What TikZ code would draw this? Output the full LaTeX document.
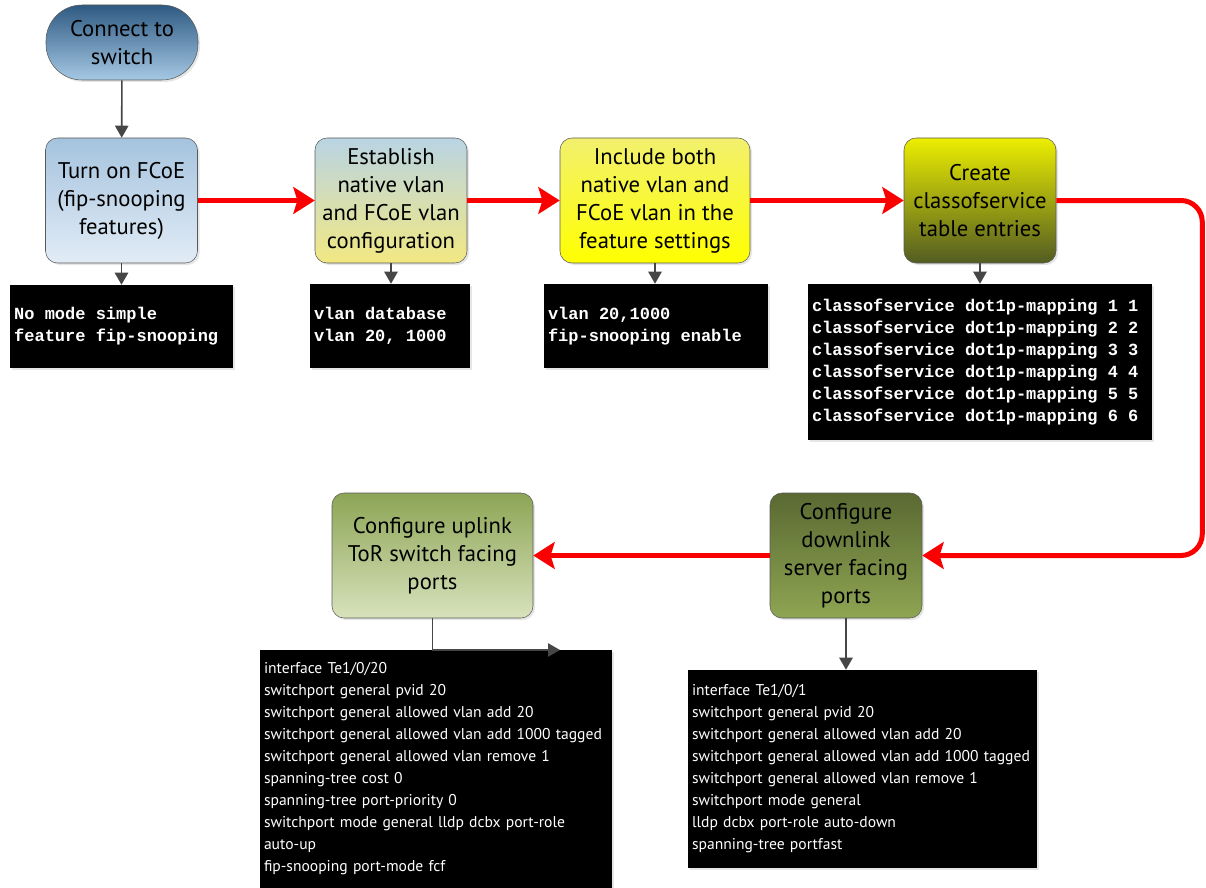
\documentclass[tikz,border=0pt]{standalone}
\usepackage{fontspec}
\setmainfont{PT Sans}
\newfontfamily\cmdfont{Liberation Mono}
\newcommand\cmdtext{\cmdfont\bfseries\fontsize{12.75}{16.5}\selectfont}
\newcommand\wsp{\hspace*{0.6em}}
\usetikzlibrary{arrows.meta, shadows}
\definecolor{edgegray}{RGB}{90,90,90}
\definecolor{feedgray}{RGB}{70,70,70}
\definecolor{flowred}{RGB}{250,0,0}
\definecolor{starttop}{RGB}{47,90,130}
\definecolor{startbot}{RGB}{165,200,228}
\definecolor{fcoetop}{RGB}{165,195,222}
\definecolor{fcoebot}{RGB}{226,236,246}
\definecolor{vlantop}{RGB}{185,212,228}
\definecolor{vlanbot}{RGB}{242,232,130}
\definecolor{incltop}{RGB}{242,240,110}
\definecolor{inclbot}{RGB}{255,255,0}
\definecolor{costop}{RGB}{236,238,0}
\definecolor{cosbot}{RGB}{82,92,34}
\definecolor{downtop}{RGB}{90,105,50}
\definecolor{downbot}{RGB}{142,165,82}
\definecolor{uptop}{RGB}{140,165,85}
\definecolor{upbot}{RGB}{216,226,188}
\tikzset{
    stepbox/.style 2 args={
        draw=edgegray, rounded corners=9pt,
        top color=#1, bottom color=#2,
        minimum width=114pt, minimum height=93.75pt,
        align=center, inner sep=2pt,
        font=\fontsize{17}{21}\selectfont,
        drop shadow={opacity=0.2, shadow xshift=1.5pt, shadow yshift=-1.5pt},
    },
    cmdbox/.style={
        fill=black, text=white, align=left, inner xsep=3pt,
        font=\cmdtext,
        drop shadow={opacity=0.2, shadow xshift=1.5pt, shadow yshift=-1.5pt},
    },
    cfgbox/.style={
        fill=black, text=white, align=left, inner xsep=3pt,
        font=\fontsize{11.7}{16.5}\selectfont,
        drop shadow={opacity=0.2, shadow xshift=1.5pt, shadow yshift=-1.5pt},
    },
    flow/.style={
        draw=flowred, line width=3.75pt,
        -{Stealth[length=16pt, width=20pt, inset=3pt]},
    },
    feed/.style={
        draw=feedgray, line width=1.2pt,
        -{Triangle[length=9pt, width=10pt]},
    },
}

\begin{document}
\begin{tikzpicture}[x=0.75pt, y=-0.75pt]
    \useasboundingbox (0,0) rectangle (1206,888);

    % flow steps
    \node[stepbox={starttop}{startbot}, rounded corners=27pt, minimum height=56.25pt]
        (start) at (122,42.5) {Connect to\\switch};
    \node[stepbox={fcoetop}{fcoebot}]
        (fcoe) at (121.5,200.5) {Turn on FCoE\\(fip-snooping\\features)};
    \node[stepbox={vlantop}{vlanbot}]
        (vlan) at (391,200.5) {Establish\\native vlan\\and FCoE vlan\\configuration};
    \node[stepbox={incltop}{inclbot}, minimum width=142.5pt] (incl) at (655,200.5)
        {Include both\\native vlan and\\FCoE vlan in the\\feature settings};
    \node[stepbox={costop}{cosbot}]
        (cos) at (980,200.5) {Create\\classofservice\\table entries};
    \node[stepbox={downtop}{downbot}]
        (down) at (846,555.5) {Configure\\downlink\\server facing\\ports};
    \node[stepbox={uptop}{upbot}, minimum width=150.75pt] (up) at (432.5,555.5)
        {Configure uplink\\ToR switch facing\\ports};

    % command boxes
    \node[cmdbox, text width=161pt, minimum height=62.25pt] (cmdfcoe) at (121.5,326.5)
        {No\wsp mode\wsp simple\\feature\wsp fip-snooping};
    \node[cmdbox, text width=114pt, minimum height=63pt] (cmdvlan) at (390,326)
        {vlan\wsp database\\vlan\wsp 20,\wsp 1000};
    \node[cmdbox, text width=162pt, minimum height=63pt] (cmdincl) at (656,326)
        {vlan\wsp 20,1000\\fip-snooping\wsp enable};
    \node[cmdbox, text width=252pt, minimum height=117pt] (cmdcos) at (980,362)
        {classofservice\wsp dot1p-mapping\wsp 1\wsp 1\\
         classofservice\wsp dot1p-mapping\wsp 2\wsp 2\\
         classofservice\wsp dot1p-mapping\wsp 3\wsp 3\\
         classofservice\wsp dot1p-mapping\wsp 4\wsp 4\\
         classofservice\wsp dot1p-mapping\wsp 5\wsp 5\\
         classofservice\wsp dot1p-mapping\wsp 6\wsp 6};
    \node[cfgbox, text width=258pt, minimum height=178.5pt] (cfgup) at (436,769)
        {interface Te1/0/20\\
         switchport general pvid 20\\
         switchport general allowed vlan add 20\\
         switchport general allowed vlan add 1000 tagged\\
         switchport general allowed vlan remove 1\\
         spanning-tree cost 0\\
         spanning-tree port-priority 0\\
         switchport mode general lldp dcbx port-role\\
         auto-up\\
         fip-snooping port-mode fcf};
    \node[cfgbox, text width=255.75pt, minimum height=148.5pt] (cfgdown) at (862.5,769)
        {interface Te1/0/1\\
         switchport general pvid 20\\
         switchport general allowed vlan add 20\\
         switchport general allowed vlan add 1000 tagged\\
         switchport general allowed vlan remove 1\\
         switchport mode general\\
         lldp dcbx port-role auto-down\\
         spanning-tree portfast};

    % connectors
    \draw[feed] (start) -- (fcoe);
    \draw[feed] (fcoe.south) -- (fcoe.south |- cmdfcoe.north);
    \draw[feed] (vlan.south) -- (vlan.south |- cmdvlan.north);
    \draw[feed] (incl.south) -- (incl.south |- cmdincl.north);
    \draw[feed] (cos.south) -- (cos.south |- cmdcos.north);
    \draw[feed] (down.south) -- (down.south |- cfgdown.north);
    \coordinate (upend) at (560,650);
    \draw[feed] (up) |- (upend);

    \draw[flow] (fcoe) -- (vlan);
    \draw[flow] (vlan) -- (incl);
    \draw[flow] (incl) -- (cos);
    \draw[flow, rounded corners=16pt] (cos.east) -- ++(146,0) |- (down.east);
    \draw[flow] (down) -- (up);
\end{tikzpicture}
\end{document}
